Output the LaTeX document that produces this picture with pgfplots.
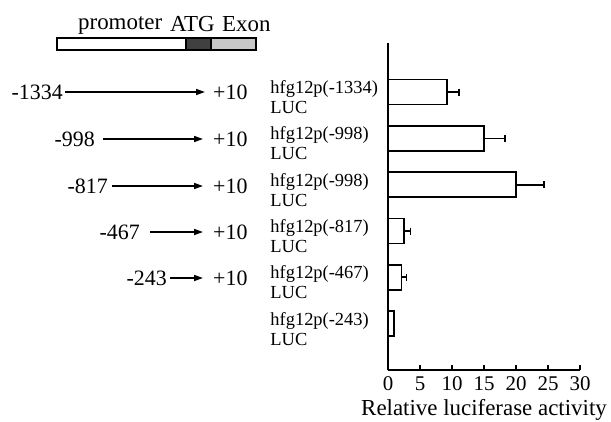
\documentclass[border=0pt]{standalone}
\usepackage{fontspec}
\setmainfont{Liberation Serif}
\usepackage{pgfplots}
\pgfplotsset{compat=1.18}
\usetikzlibrary{arrows.meta}
\begin{document}
\begin{tikzpicture}[x=1bp,y=1bp]
\useasboundingbox (0,0) rectangle (611,421);
% gene structure
\draw[line width=1.3bp, fill=white] (57,371) rectangle (186,383);
\draw[line width=1.3bp, fill=black!75] (186,371) rectangle (211,383);
\draw[line width=1.3bp, fill=black!22] (211,371) rectangle (256,383);
\node[anchor=base west, inner sep=0, font=\fontsize{23}{24}\selectfont] at (78,391) {promoter};
\node[anchor=base west, inner sep=0, font=\fontsize{23}{24}\selectfont] at (170,389) {ATG};
\node[anchor=base west, inner sep=0, font=\fontsize{23}{24}\selectfont] at (222,389) {Exon};
% constructs
\tikzset{lbl/.style={inner sep=0, font=\fontsize{22}{24}\selectfont},
         arr/.style={line width=1.6bp, -{Triangle[length=9bp,width=6bp]}}}
\node[lbl, anchor=base east] at (63,321.5) {-1334};
\draw[arr] (65,329) -- (205,329);
\node[lbl, anchor=base west] at (213,321.5) {+10};
\node[lbl, anchor=base east] at (95,274.5) {-998};
\draw[arr] (103,282) -- (203,282);
\node[lbl, anchor=base west] at (213,274.5) {+10};
\node[lbl, anchor=base east] at (108,227.5) {-817};
\draw[arr] (112,235) -- (203,235);
\node[lbl, anchor=base west] at (213,227.5) {+10};
\node[lbl, anchor=base east] at (140,181.5) {-467};
\draw[arr] (150,189) -- (203,189);
\node[lbl, anchor=base west] at (213,181.5) {+10};
\node[lbl, anchor=base east] at (167,135.5) {-243};
\draw[arr] (170,143) -- (203,143);
\node[lbl, anchor=base west] at (213,135.5) {+10};
\begin{axis}[
  at={(388bp,51bp)}, anchor=origin,
  scale only axis, width=192bp, height=327bp,
  xmin=0, xmax=30, ymin=0, ymax=7.06,
  axis x line*=bottom, axis y line*=left,
  axis line style={line width=2bp, black},
  xtick={0,5,...,30}, tick align=inside,
  x tick style={line width=1.5bp, black}, major tick length=5bp,
  ytick={1,...,6}, y tick style={draw=none},
  yticklabels={{hfg12p(-243)\\LUC},{hfg12p(-467)\\LUC},{hfg12p(-817)\\LUC},{hfg12p(-998)\\LUC},{hfg12p(-998)\\LUC},{hfg12p(-1334)\\LUC}},
  yticklabel style={align=left, text width=114bp, font=\fontsize{18.5}{20}\selectfont, yshift=-5bp},
  xticklabel style={font=\fontsize{21}{22}\selectfont, yshift=-3bp},
  /pgf/number format/assume math mode=true,
  xlabel={Relative luciferase activity},
  xlabel style={font=\fontsize{23}{24}\selectfont, yshift=-2bp},
  clip=false,
]
\addplot[xbar, bar width=25bp, bar shift=0pt, fill=white, draw=black, line width=1.8bp,
  error bars/.cd, x dir=plus, x explicit, error mark=|,
  error bar style={line width=1.8bp, black},
  error mark options={line width=1.8bp, mark size=3.5bp, black}]
coordinates {
 (9.2,6) +- (1.9,0)
 (15,5) +- (3.3,0)
 (20,4) +- (4.4,0)
 (2.5,3) +- (1.0,0)
 (2.1,2) +- (0.8,0)
};
\addplot[xbar, bar width=25bp, bar shift=0pt, fill=white, draw=black, line width=1.8bp]
coordinates {
 (0.95,1)
};
\end{axis}
\end{tikzpicture}
\end{document}
